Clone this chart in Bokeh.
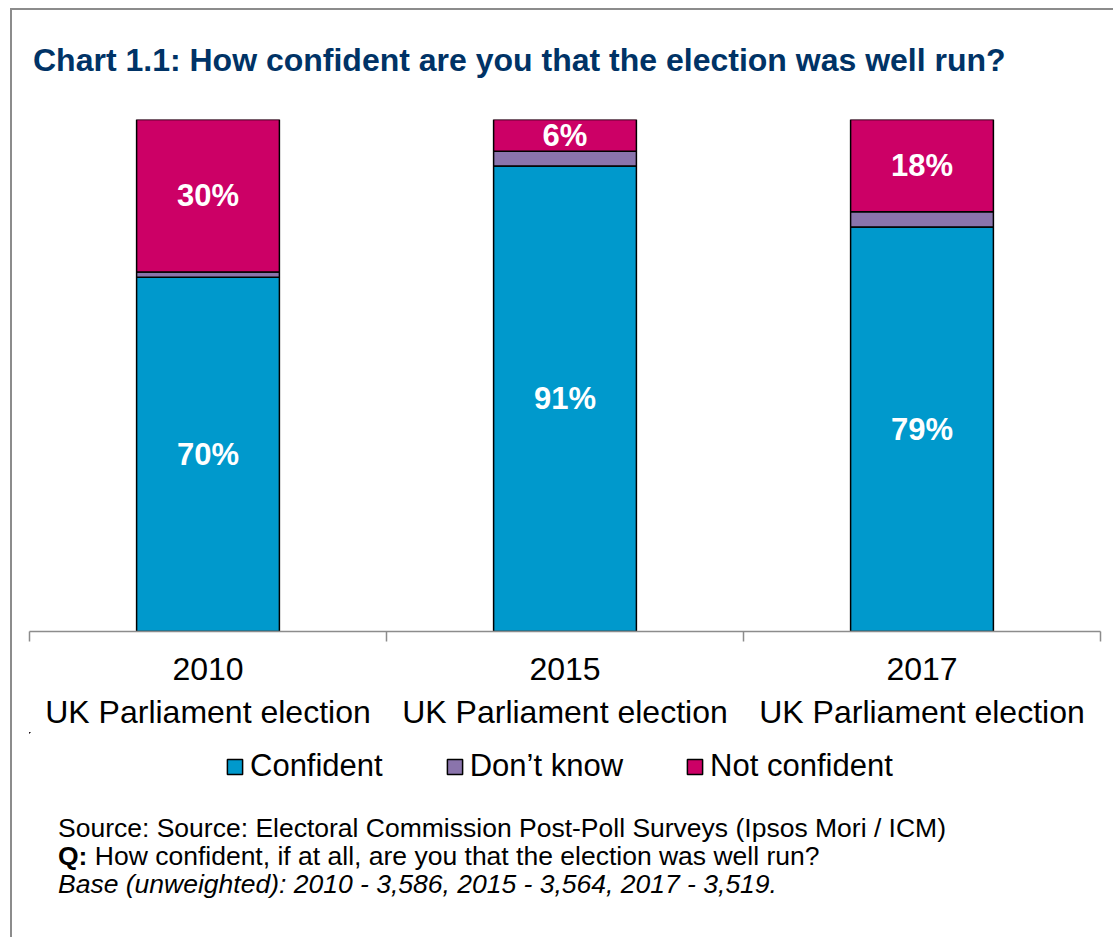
from bokeh.plotting import figure
from bokeh.layouts import column
from bokeh.models import (ColumnDataSource, LabelSet, Legend, LegendItem, LinearAxis,
                          Range1d, FixedTicker, Div)
from bokeh.core.properties import value
from bokeh.embed import file_html
from bokeh.resources import INLINE

years = ["2010", "2015", "2017"]
categories = [f"{y}\nUK Parliament election" for y in years]
confident = [69.2, 90.9, 79.0]
dont_know = [1.0, 2.9, 3.0]
not_confident = [29.8, 6.2, 18.0]
confident_labels = ["70%", "91%", "79%"]
not_confident_labels = ["30%", "6%", "18%"]
series = ["Confident", "Don\u2019t know", "Not confident"]
colors = ["#0099CC", "#8A74AC", "#CC0066"]

title_text = "Chart 1.1: How confident are you that the election was well run?"
source_text = "Source: Source: Electoral Commission Post-Poll Surveys (Ipsos Mori / ICM)"
q_bold = "Q:"
q_text = "How confident, if at all, are you that the election was well run?"
base_text = "Base (unweighted): 2010 - 3,586, 2015 - 3,564, 2017 - 3,519."

FONT = "Liberation Sans"

n_cat = len(categories)
centers = [i + 0.5 for i in range(n_cat)]

src = ColumnDataSource(dict(
    x=centers, cat=categories, c=confident, d=dont_know, n=not_confident,
    c_mid=[v / 2 for v in confident],
    n_mid=[a + b + v / 2 for a, b, v in zip(confident, dont_know, not_confident)],
    c_lab=confident_labels, n_lab=not_confident_labels,
))

title_div = Div(
    text=(f'<div style="font-family:\'{FONT}\',Arial,sans-serif; font-weight:bold; font-size:32px; '
          f'color:#003366; line-height:36px; margin:32px 0 0 21px; white-space:nowrap;">{title_text}</div>'),
    width=1101, height=104, margin=0)

p = figure(width=1101, height=618, x_range=Range1d(0, n_cat), y_range=Range1d(0, 100),
           output_backend="svg", toolbar_location=None, y_axis_location=None,
           x_axis_location=None, margin=0,
           min_border_left=17, min_border_right=13, min_border_top=5, min_border_bottom=100)
p.outline_line_color = None
p.xgrid.visible = False
p.ygrid.visible = False
p.background_fill_color = "white"
p.border_fill_color = "white"

rs = p.vbar_stack(["c", "d", "n"], x="x", width=0.4, source=src, color=colors,
                  line_color="black", line_width=1.5)

# boundary ticks axis (line + ticks between categories)
tick_axis = LinearAxis(ticker=FixedTicker(ticks=list(range(n_cat + 1))),
                       axis_line_color="#8c8c8c", axis_line_width=1.5,
                       major_tick_line_color="#8c8c8c", major_tick_line_width=1.5,
                       major_tick_in=0, major_tick_out=10, minor_tick_line_color=None,
                       major_label_text_font_size="0px", major_label_text_color=None,
                       major_label_standoff=0)
# category label axis
cat_axis = LinearAxis(ticker=FixedTicker(ticks=centers),
                      major_label_overrides={c: lab for c, lab in zip(centers, categories)},
                      axis_line_color=None, major_tick_line_color=None, minor_tick_line_color=None,
                      major_tick_in=0, major_tick_out=0,
                      major_label_text_font=FONT, major_label_text_font_size="32px",
                      major_label_text_color="black", major_label_text_line_height=1.2,
                      major_label_standoff=9)
p.below = [tick_axis, cat_axis]

# value labels
for ycol, tcol in (("c_mid", "c_lab"), ("n_mid", "n_lab")):
    p.add_layout(LabelSet(x="x", y=ycol, text=tcol, source=src, text_color="white",
                          text_font=value(FONT), text_font_style="bold", text_font_size="31px",
                          text_align="center", text_baseline="middle"))

# legend strip: a small canvas whose proxy bars (same data) fall outside its view,
# so only the legend itself shows (keeps the legend from being clipped)
lf = figure(width=1101, height=68, x_range=Range1d(n_cat + 5, n_cat + 6), y_range=Range1d(-20, -10),
            output_backend="svg", toolbar_location=None, x_axis_location=None,
            y_axis_location=None, margin=0,
            min_border_left=17, min_border_right=13, min_border_top=0, min_border_bottom=0)
lf.outline_line_color = None
lf.xgrid.visible = False
lf.ygrid.visible = False
swatches = lf.vbar_stack(["c", "d", "n"], x="x", width=0.4, source=src, color=colors,
                         line_color="black", line_width=1.5)
legend = Legend(items=[LegendItem(label=s, renderers=[r]) for s, r in zip(series, swatches)],
                orientation="horizontal", location=(196, 16),
                glyph_width=19, glyph_height=19, label_standoff=6, spacing=62,
                label_text_font=FONT, label_text_font_size="31px", label_text_color="black",
                padding=0, margin=0, border_line_color=None, background_fill_alpha=0)
lf.add_layout(legend, "center")

notes_div = Div(
    text=(f'<div style="font-family:\'{FONT}\',Arial,sans-serif; font-size:26.5px; color:black; '
          f'line-height:28px; margin:14px 0 0 46px; white-space:nowrap;">'
          f'{source_text}<br><b>{q_bold}</b> {q_text}<br><i>{base_text}</i></div>'),
    width=1101, height=137, margin=0)

root = column(title_div, p, lf, notes_div, spacing=0, margin=(8, 0, 0, 10),
              styles={"border-left": "2px solid #8c8c8c", "border-top": "2px solid #8c8c8c",
                      "background-color": "white"})

open("out.html", "w").write(file_html(root, INLINE))
